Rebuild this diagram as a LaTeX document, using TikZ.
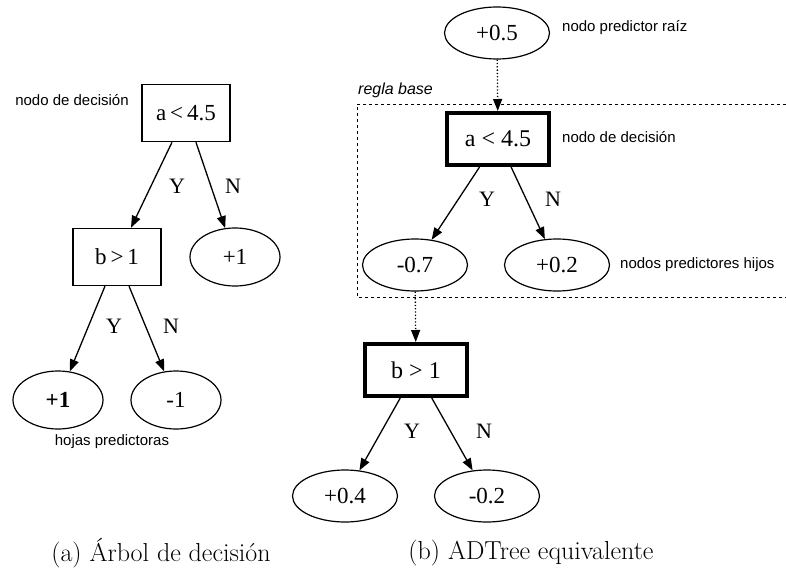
\documentclass[tikz,border=0pt]{standalone}
\usepackage{fontspec}
\setmainfont{Latin Modern Roman}
\newfontfamily\nodefont{Liberation Serif}
\newfontfamily\notefont{Liberation Sans}
\usetikzlibrary{arrows.meta,shapes.geometric}
\tikzset{
  decbox/.style={draw, line width=1.5pt, minimum width=88pt, minimum height=57pt, inner sep=0pt, font=\nodefont\fontsize{23}{27}\selectfont},
  decboxthick/.style={draw, line width=4pt, minimum width=102pt, minimum height=52pt, inner sep=0pt, font=\nodefont\fontsize{24}{28}\selectfont},
  pred/.style={draw, ellipse, line width=1.2pt, minimum width=90pt, minimum height=58pt, inner sep=0pt, font=\nodefont\fontsize{23}{27}\selectfont},
  predb/.style={draw, ellipse, line width=1.2pt, minimum width=105pt, minimum height=52pt, inner sep=0pt, font=\nodefont\fontsize{23}{27}\selectfont},
  edgelbl/.style={font=\nodefont\fontsize{22}{26}\selectfont, inner sep=0pt},
  note/.style={font=\notefont\fontsize{15}{18}\selectfont, inner sep=0pt},
  capt/.style={font=\fontsize{26}{30}\selectfont, inner sep=0pt},
  arr/.style={line width=1.3pt, -{Triangle[length=12pt,width=9pt]}},
  dotarr/.style={line width=1.3pt, dotted, -{Triangle[length=12pt,width=9pt]}},
}
\begin{document}
\begin{tikzpicture}[x=1pt,y=-1pt]
\useasboundingbox (0,0) rectangle (786,575);
% ---- (a) decision tree ----
\node[decbox] (a1) at (186,113) {a\,<\,4.5};
\node[note] (n1) at (72,100) {nodo de decisión};
\node[decbox] (b1) at (117,257) {b\,>\,1};
\node[pred] (p1) at (235,257) {+1};
\node[pred] (p2) at (58,400) {\textbf{+1}};
\node[pred] (p3) at (176,400) {-1};
\node[note] (n2) at (112,442) {hojas predictoras};
\draw[arr] (a1) -- (b1);
\draw[arr] (a1) -- (p1);
\draw[arr] (b1) -- (p2);
\draw[arr] (b1) -- (p3);
\node[edgelbl] (y1) at (177,186) {Y};
\node[edgelbl] (m1) at (233,186) {N};
\node[edgelbl] (y2) at (114,326) {Y};
\node[edgelbl] (m2) at (171,326) {N};
% ---- (b) ADTree ----
\coordinate (bxl) at (357,104);
\coordinate (bxr) at (786,104);
\coordinate (bxbl) at (357,297);
\coordinate (bxbr) at (786,297);
\draw[dashed, line width=0.9pt] (bxr) -- (bxl) -- (bxbl) -- (bxbr);
\node[note, font=\notefont\itshape\fontsize{16}{19}\selectfont, anchor=west] (rb) at (358,90) {regla base};
\node[predb] (r) at (497,33) {+0.5};
\node[note, anchor=west] (n3) at (562,28) {nodo predictor raíz};
\node[decboxthick] (a2) at (498,139) {a < 4.5};
\node[note, anchor=west] (n4) at (562,137) {nodo de decisión};
\node[predb] (q1) at (415,265) {-0.7};
\node[predb] (q2) at (557,265) {+0.2};
\node[note, anchor=west] (n5) at (620,265) {nodos predictores hijos};
\node[decboxthick] (b2) at (416,370) {b > 1};
\node[predb] (q3) at (345,496) {+0.4};
\node[predb] (q4) at (487,496) {-0.2};
\draw[dotarr] (r) -- (a2);
\draw[dotarr] (q1) -- (b2);
\draw[arr] (a2) -- (q1);
\draw[arr] (a2) -- (q2);
\draw[arr] (b2) -- (q3);
\draw[arr] (b2) -- (q4);
\node[edgelbl] (y3) at (487,199) {Y};
\node[edgelbl] (m3) at (553,199) {N};
\node[edgelbl] (y4) at (412,431) {Y};
\node[edgelbl] (m4) at (484,431) {N};
% ---- captions ----
\node[capt] (ca) at (161,553) {(a) Árbol de decisión};
\node[capt] (cb) at (531,553) {(b) ADTree equivalente};
\end{tikzpicture}
\end{document}
